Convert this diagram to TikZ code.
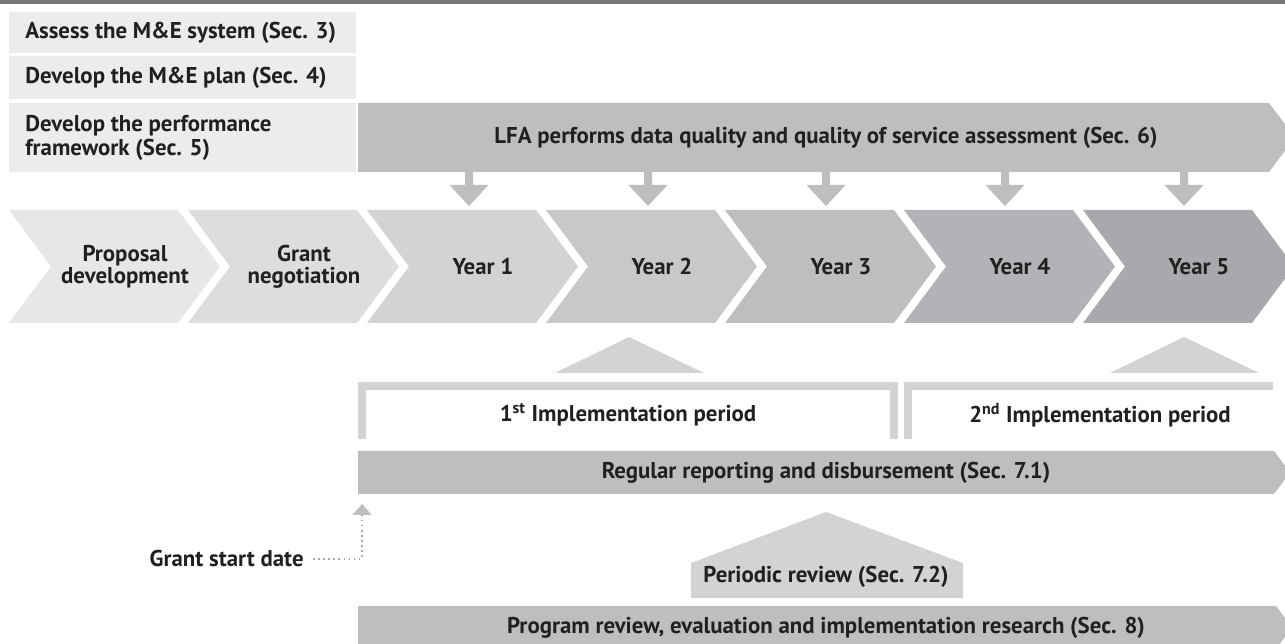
\documentclass[tikz,border=0pt]{standalone}
\usepackage{fontspec}
\setmainfont{PT Sans}
\usepackage{tikz}
\usetikzlibrary{arrows.meta}
\definecolor{ink}{HTML}{231F20}
\definecolor{rulegrey}{HTML}{77787B}
\definecolor{boxgrey}{HTML}{ECECED}
\definecolor{bandgrey}{HTML}{BCBEC0}
\definecolor{palegrey}{HTML}{D1D3D4}
\definecolor{dotgrey}{HTML}{A7A9AC}
\definecolor{chevA}{HTML}{E6E7E8}
\definecolor{chevB}{HTML}{DCDDDF}
\definecolor{chevC}{HTML}{D1D3D4}
\definecolor{chevD}{HTML}{C7C8CA}
\definecolor{chevE}{HTML}{BCBEC0}
\definecolor{chevF}{HTML}{B1B3B6}
\definecolor{chevG}{HTML}{A7A9AC}

\begin{document}
\begin{tikzpicture}[x=0.02cm,y=-0.02cm,
    lbl/.style={font=\bfseries\fontsize{13}{13.6}\selectfont,text=ink,inner sep=0pt,align=center},
    bracket/.style={draw=palegrey,line width=0.16cm,line join=miter},
    dotline/.style={draw=dotgrey,line width=0.9pt,dash pattern=on 0.9pt off 2pt}]
        \pgfmathsetmacro\step{179}
        \clip (0,0) rectangle (1285,644);
        \fill[rulegrey] (0,0) rectangle (1285,4);
        % left column
        \fill[boxgrey] (9,12) rectangle (356,53);
        \fill[boxgrey] (9,56) rectangle (356,99);
        \fill[boxgrey] (9,103) rectangle (356,172);
        \node[lbl,anchor=west] (assess) at (25,32.5) {Assess the M\&E system (Sec. 3)};
        \node[lbl,anchor=west] (plan) at (25,77.5) {Develop the M\&E plan (Sec. 4)};
        \node[lbl,anchor=west,align=left] (perf) at (25,137.5) {Develop the performance\\framework (Sec. 5)};
        % LFA band
        \fill[bandgrey] (358,103) -- (1269,103) -- (1295,137.5) -- (1269,172) -- (358,172) -- cycle;
        \node[lbl] (lfa) at (826,137.5) {LFA performs data quality and quality of service assessment (Sec. 6)};
        \foreach \c in {469,648,826,1005,1184}
            \fill[bandgrey] (\c-4,172) -- (\c+4,172) -- (\c+4,185) -- (\c+19.5,185) -- (\c,206) -- (\c-19.5,185) -- (\c-4,185) -- cycle;
        % timeline
        \foreach \i/\col/\txt in {0/chevA/{Proposal\\development},1/chevB/{Grant\\negotiation},2/chevC/Year 1,3/chevD/Year 2,4/chevE/Year 3,5/chevF/Year 4,6/chevG/Year 5}{
            \pgfmathsetmacro\xa{9+\step*\i}
            \fill[\col] (\xa,210) -- ++(169,0) -- ++(42,56.5) -- ++(-42,56.5) -- ++(-169,0) -- ++(42,-56.5) -- cycle;
            \node[lbl,font=\bfseries\fontsize{13}{12.5}\selectfont] (year\i) at (\xa+116,266.5) {\txt};
        }
        % implementation periods
        \fill[palegrey] (555,373) -- (629,337) -- (704,373) -- cycle;
        \fill[palegrey] (1110,373) -- (1184,337) -- (1259,373) -- cycle;
        \draw[bracket] (362,439) -- (362,386) -- (894,386) -- (894,439);
        \draw[bracket] (908,439) -- (908,386) -- (1273,386);
        \node[lbl] (imp1) at (628,415) {1\textsuperscript{st} Implementation period};
        \node[lbl] (imp2) at (1100,415) {2\textsuperscript{nd} Implementation period};
        \fill[bandgrey] (358,451) -- (1274,451) -- (1290,472.5) -- (1274,494) -- (358,494) -- cycle;
        \node[lbl] (report) at (826,472.5) {Regular reporting and disbursement (Sec. 7.1)};
        % grant start
        \node[lbl,anchor=east] (start) at (304,559) {Grant start date};
        \coordinate (starttip) at (362,504);
        \draw[dotline,shorten <=0.18cm,-{Triangle[width=0.38cm,length=0.22cm,color=bandgrey]}] (start.east) -| (starttip);
        % reviews
        \fill[palegrey] (691,598) -- (691,563) -- (826,512) -- (963,563) -- (963,598) -- cycle;
        \node[lbl] (periodic) at (826,577) {Periodic review (Sec. 7.2)};
        \fill[bandgrey] (358,606) -- (1276,606) -- (1292,627.5) -- (1276,649) -- (358,649) -- cycle;
        \node[lbl] (program) at (826,628) {Program review, evaluation and implementation research (Sec. 8)};
\end{tikzpicture}
\end{document}
